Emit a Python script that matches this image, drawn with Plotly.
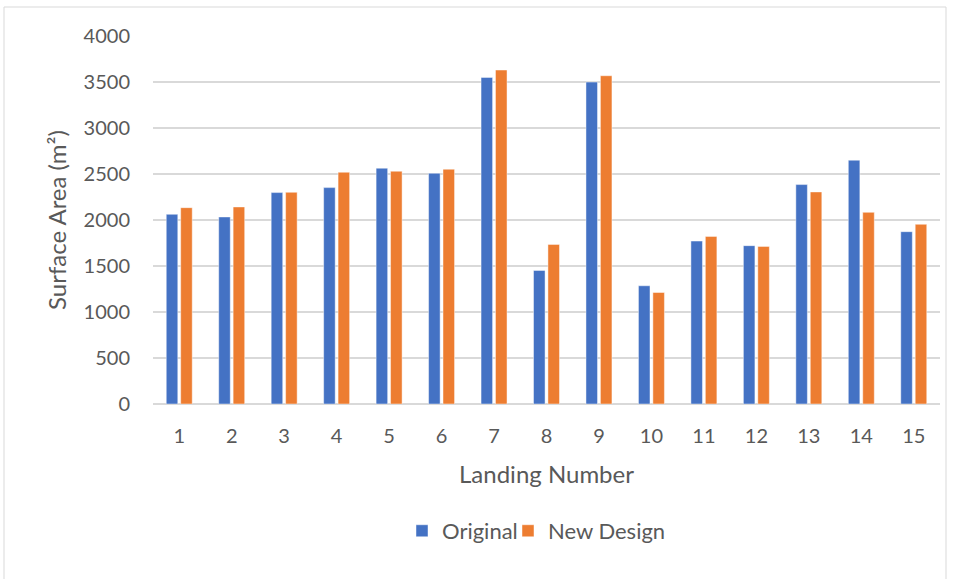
import plotly.graph_objects as go

# Surface area per landing, original vs. new design (m²)
landings = [str(i) for i in range(1, 16)]
original = [2062, 2033, 2298, 2352, 2563, 2508, 3550, 1452, 3499, 1285, 1771, 1721, 2385, 2650, 1873]
new_design = [2134, 2142, 2301, 2519, 2530, 2552, 3630, 1735, 3568, 1212, 1822, 1713, 2305, 2083, 1953]

W, H = 956, 579
L, R, T, B = 153, 16, 36, 175
FONT = "Lato, Carlito, 'Open Sans', sans-serif"
TXT = "#595959"

fig = go.Figure()
fig.add_trace(go.Bar(x=landings, y=original, name="Original", legend="legend",
                     marker=dict(color="#4472C4", line=dict(color="rgba(255,255,255,0.45)", width=1))))
fig.add_trace(go.Bar(x=landings, y=new_design, name="New Design", legend="legend2",
                     marker=dict(color="#ED7D31", line=dict(color="rgba(255,255,255,0.45)", width=1))))

pw = W - L - R
ph = H - T - B
# light outer frame around the chart
fig.add_shape(type="rect", xref="paper", yref="paper",
              x0=(4 - L) / pw, x1=(946 - L) / pw,
              y0=-(H + 5 - T - ph) / ph, y1=1 + (T - 7) / ph,
              line=dict(color="#d9d9d9", width=1), layer="below")

leg = dict(orientation="h", yanchor="middle", y=-0.345, xanchor="left",
           font=dict(size=22, color=TXT), itemwidth=30, bgcolor="rgba(0,0,0,0)")

fig.update_layout(
    width=W, height=H,
    margin=dict(l=L, r=R, t=T, b=B),
    paper_bgcolor="white", plot_bgcolor="white",
    barmode="group", bargap=0.45, bargroupgap=0.2,
    font=dict(family=FONT, color=TXT, size=20),
    showlegend=True,
    legend=dict(leg, x=(402 - L) / pw),
    legend2=dict(leg, x=(508 - L) / pw),
    xaxis=dict(title=dict(text="Landing Number", font=dict(size=24, color=TXT), standoff=20),
               tickfont=dict(size=20, color=TXT), showgrid=False, zeroline=False,
               showline=False, ticks="", ticklabelstandoff=18),
    yaxis=dict(title=dict(text="Surface Area (m²)", font=dict(size=24, color=TXT), standoff=10),
               range=[0, 4000], dtick=500, tickfont=dict(size=20, color=TXT),
               showgrid=True, gridcolor="#d9d9d9", gridwidth=1.5,
               zeroline=True, zerolinecolor="#d9d9d9", zerolinewidth=1.5,
               showline=False, ticks="", ticklabelstandoff=22),
)

fig.write_html("out.html")
